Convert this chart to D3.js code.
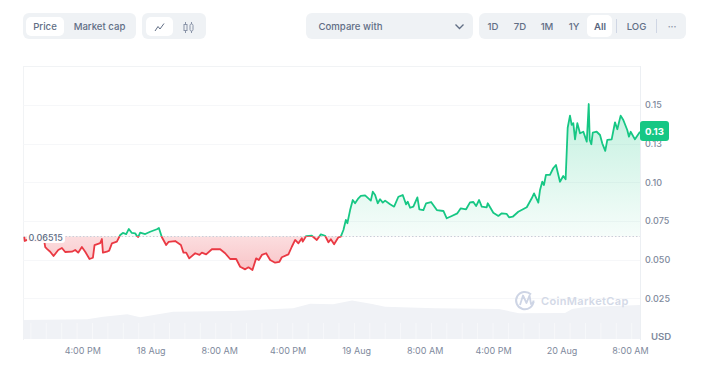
<!DOCTYPE html>
<html><head><meta charset="utf-8">
<script src="https://cdn.jsdelivr.net/npm/d3@7"></script>
<style>html,body{margin:0;padding:0;background:#fff;overflow:hidden}text{font-family:Inter,"Noto Sans",sans-serif}</style>
</head><body><svg id="c" width="704" height="379"></svg>
<script>
const baseValue = 0.06515;
const currentLabel = "0.13";
const hours = [-14.77,-14.72,-14.42,-13.49,-12.44,-12.32,-12.09,-11.74,-11.35,-10.80,-10.37,-9.99,-9.20,-8.82,-8.47,-8.04,-7.65,-7.15,-6.75,-6.56,-5.90,-5.70,-5.58,-5.12,-4.85,-4.53,-3.95,-3.56,-3.25,-2.86,-2.55,-2.20,-1.81,-1.61,-1.46,-1.23,-0.64,-0.06,0.72,0.96,1.31,1.81,2.08,2.86,3.53,3.83,4.15,4.50,5.20,5.70,5.98,6.48,7.15,8.12,8.70,9.28,9.99,10.45,11.04,11.42,11.89,12.32,12.64,12.99,13.49,13.96,14.54,15.04,15.32,16.09,16.49,16.88,17.26,17.66,17.77,18.16,18.83,19.41,19.88,20.38,20.77,21.05,21.43,21.93,22.21,22.52,22.80,22.98,23.30,23.61,23.88,24.27,24.55,25.05,25.72,25.95,26.22,26.53,26.80,27.12,27.39,27.97,28.44,28.94,29.45,29.84,30.03,30.31,30.69,31.16,31.39,31.86,32.18,32.76,33.43,34.20,34.59,35.18,35.83,36.23,36.85,37.31,37.70,38.02,38.37,38.68,39.26,39.38,40.03,40.62,41.02,41.60,41.87,42.30,42.95,43.94,44.52,44.79,45.29,45.49,45.75,45.95,46.18,46.65,47.03,47.35,47.82,48.20,48.48,48.72,48.99,49.19,49.38,49.58,49.85,50.16,50.55,50.95,51.18,51.30,51.48,51.65,52.11,52.50,52.76,53.11,53.35,53.86,54.25,54.52,54.91,55.22,55.68,55.88,56.08,56.58,57.17];
const prices = [.0646,.0620,.0627,.0620,.0620,.0581,.0568,.0551,.0523,.0562,.0575,.0549,.0551,.0562,.0545,.0581,.0551,.0504,.0512,.0594,.0607,.0633,.0545,.0551,.0558,.0605,.0616,.0659,.0672,.0665,.0698,.0672,.0670,.0652,.0646,.0674,.0665,.0680,.0696,.0704,.0644,.0594,.0614,.0620,.0594,.0545,.0545,.0508,.0541,.0530,.0545,.0534,.0567,.0567,.0541,.0504,.0504,.0454,.0437,.0450,.0433,.0508,.0497,.0530,.0541,.0497,.0480,.0486,.0515,.0534,.0583,.0627,.0605,.0638,.0616,.0652,.0654,.0627,.0663,.0654,.0612,.0631,.0599,.0644,.0648,.0691,.0756,.0735,.0820,.0885,.0864,.0896,.0911,.0915,.0881,.0939,.0917,.0864,.0890,.0868,.0881,.0857,.0842,.0906,.0917,.0857,.0874,.0835,.0842,.0902,.0825,.0820,.0864,.0872,.0820,.0814,.0767,.0782,.0799,.0831,.0825,.0870,.0872,.0846,.0885,.0842,.0838,.0864,.0803,.0782,.0799,.0795,.0773,.0777,.0809,.0838,.0896,.0928,.0868,.0950,.1003,.0982,.1047,.1047,.1090,.1111,.1003,.1040,.1019,.1352,.1430,.1370,.1381,.1277,.1381,.1316,.1326,.1262,.1505,.1273,.1245,.1320,.1326,.1305,.1251,.1202,.1273,.1277,.1387,.1342,.1430,.1402,.1337,.1294,.1326,.1277,.1326];
const volHours = [-14.86,-7.42,-5.55,-2.74,-1.23,2.63,9.64,16.64,18.63,21.31,23.53,25.87,27.39,33.23,40.70,43.04,48.41,49.23,50.75,57.17];
const volumes = [19,19.7,22.3,24.7,21.7,27.3,28,30.7,35.3,34.7,38.5,35,32.3,30.7,30,25.7,26,30,32,34];
const yTicks = [0.025,0.05,0.075,0.10,0.125,0.15];
const yLabels = ["0.025","0.050","0.075","0.10","0.13","0.15"];
const xTicks = [-8,0,8,16,24,32,40,48,56];
const xLabels = ["4:00 PM","18 Aug","8:00 AM","4:00 PM","19 Aug","8:00 AM","4:00 PM","20 Aug","8:00 AM"];
const seg1 = ["Price","Market cap"];
const seg3 = ["1D","7D","1M","1Y","All"];

const GREEN="#16c784", RED="#ea3943", GRID="#f6f7f9", TXT="#808a9d", BTN="#eff2f5", BTXT="#616e85";
const svg=d3.select("#c");
const L=23.5,R=640,T=66,B=339;
const t0=new Date(2023,7,18,0,0,0);
const toDate=h=>new Date(t0.getTime()+h*3600000);
const x=d3.scaleTime().domain([toDate(-14.86),toDate(57.17)]).range([L,R]);
const y=d3.scaleLinear().domain([0,0.15]).range([337,104.8]);
const v=d3.scaleLinear().domain([0,38.5]).range([B,B-38.5]);
const data=hours.map((h,i)=>({d:toDate(h),p:prices[i]}));
const vol=volHours.map((h,i)=>({d:toDate(h),p:volumes[i]}));
const defs=svg.append("defs");
const by=y(baseValue);
function grad(id,y1,y2,c,o1,o2){const g=defs.append("linearGradient").attr("id",id).attr("gradientUnits","userSpaceOnUse").attr("x1",0).attr("x2",0).attr("y1",y1).attr("y2",y2);
 g.append("stop").attr("offset",0).attr("stop-color",c).attr("stop-opacity",o1);
 g.append("stop").attr("offset",1).attr("stop-color",c).attr("stop-opacity",o2);}
grad("gg",y(0.15),by,GREEN,.26,.04);
grad("rg",by,y(0.043),RED,.17,.3);
defs.append("clipPath").attr("id","up").append("rect").attr("x",L).attr("y",0).attr("width",R-L+1).attr("height",by);
defs.append("clipPath").attr("id","dn").append("rect").attr("x",L-1).attr("y",by).attr("width",R-L+2).attr("height",379-by);

// controls
function box(xp,yp,w,h,f,r){svg.append("rect").attr("x",xp).attr("y",yp).attr("width",w).attr("height",h).attr("rx",r).attr("fill",f);}
function label(s,xp,anchor,col,wt,yp){svg.append("text").attr("x",xp).attr("y",yp||30).attr("text-anchor",anchor||"middle").attr("font-size",9.6).attr("font-weight",wt||500).attr("fill",col||BTXT).text(s);}
box(23,13,113,26,BTN,6); box(26,17,38,19,"#fff",5);
label(seg1[0],45); label(seg1[1],99.5);
box(142,13,64,26,BTN,6); box(146,17,27,19,"#fff",5);
svg.append("path").attr("d","M155 31 L158 26.5 L160 29 L164 23.5").attr("fill","none").attr("stroke",BTXT).attr("stroke-width",1);
svg.append("g").attr("fill","none").attr("stroke","#8a94a8").attr("stroke-width",1).call(g=>{
 g.append("rect").attr("x",184).attr("y",24.5).attr("width",3).attr("height",6);
 g.append("path").attr("d","M185.5 22V24.5M185.5 30.5V33M191.5 22V24M191.5 31V33");
 g.append("rect").attr("x",190).attr("y",24).attr("width",3).attr("height",7).attr("rx",1.4);
});
box(306,13,167,26,BTN,6); label("Compare with",318.5,"start");
svg.append("path").attr("d","M455.5 24.5 L459.5 28.5 L463.5 24.5").attr("fill","none").attr("stroke",BTXT).attr("stroke-width",1.3);
box(479,13,207,26,BTN,6); box(587,15,25,22,"#fff",5);
const seg3x=[493,520,547,574,600];
seg3.forEach((s,i)=>label(s,seg3x[i],"middle",i==4?"#58667e":BTXT,i==4?600:500,29.5));
label("LOG",636.5,"middle",BTXT,500,29.5);
[616.5,656.5].forEach(p=>svg.append("line").attr("x1",p).attr("x2",p).attr("y1",19).attr("y2",33).attr("stroke","#cfd6e4"));
label("···",672,"middle","#8a94a8",500,29.5);

// frame and grid
const frame=svg.append("g").attr("stroke","#f1f3f5").attr("fill","none");
frame.append("line").attr("x1",L).attr("x2",R).attr("y1",T+.5).attr("y2",T+.5);
frame.append("line").attr("x1",L).attr("x2",L).attr("y1",T).attr("y2",B+1);
frame.append("line").attr("x1",R+.5).attr("x2",R+.5).attr("y1",T).attr("y2",B+1).attr("stroke","#eceff3");
svg.append("g").selectAll("line").data(yTicks).join("line")
 .attr("x1",L).attr("x2",R).attr("y1",d=>Math.round(y(d))+.5).attr("y2",d=>Math.round(y(d))+.5).attr("stroke",GRID);

// volume
svg.append("path").datum(vol).attr("fill","#f0f2f6")
 .attr("d",d3.area().x(d=>x(d.d)).y0(B).y1(d=>v(d.p)));
svg.append("g").selectAll("line").data(d3.range(-14,57.1,1.8)).join("line")
 .attr("x1",d=>x(toDate(d))).attr("x2",d=>x(toDate(d))).attr("y1",B).attr("y2",B-16)
 .attr("stroke","#fff").attr("stroke-opacity",.45);

// watermark
const wm=svg.append("g").attr("fill","none").attr("stroke","#ced5e5").attr("stroke-width",2);
wm.append("path").attr("d","M533.5 300.5 a8.7 8.7 0 1 1 -2.5 -6");
wm.append("path").attr("d","M520 305 L523 295.5 L526.5 303 L529.5 295.5 L531 304 L534 302").attr("stroke-width",1.8).attr("stroke-linejoin","round");
svg.append("text").attr("x",541).attr("y",304.5).attr("font-size",11).attr("font-weight",600).attr("letter-spacing",.35).attr("fill","#d3d9e7").text("CoinMarketCap");

// price areas + lines
const area=d3.area().x(d=>x(d.d)).y0(by).y1(d=>y(d.p));
const line=d3.line().x(d=>x(d.d)).y(d=>y(d.p));
svg.append("path").datum(data).attr("d",area).attr("fill","url(#gg)").attr("clip-path","url(#up)");
svg.append("path").datum(data).attr("d",area).attr("fill","url(#rg)").attr("clip-path","url(#dn)");
svg.append("line").attr("x1",L).attr("x2",R).attr("y1",Math.round(by)+.5).attr("y2",Math.round(by)+.5)
 .attr("stroke","#c9ced8").attr("stroke-dasharray","1.5 2");
svg.append("path").datum(data).attr("d",line).attr("fill","none").attr("stroke",GREEN).attr("stroke-width",1.8).attr("stroke-linejoin","round").attr("clip-path","url(#up)");
svg.append("path").datum(data).attr("d",line).attr("fill","none").attr("stroke",RED).attr("stroke-width",1.8).attr("stroke-linejoin","round").attr("clip-path","url(#dn)");

// base label
svg.append("rect").attr("x",27).attr("y",230).attr("width",38).attr("height",13).attr("rx",3).attr("fill","#fff").attr("fill-opacity",.96);
svg.append("text").attr("x",28.5).attr("y",240.5).attr("font-size",9).attr("font-weight",500).attr("fill","#616e85").text(baseValue.toFixed(5));

// axes
const yAxis=d3.axisRight(y).tickValues(yTicks).tickSize(0).tickPadding(0).tickFormat((d,i)=>yLabels[i]);
const gy=svg.append("g").attr("transform",`translate(645,0)`).call(yAxis);
gy.select(".domain").remove();
gy.selectAll("text").attr("font-size",9).attr("font-weight",500).attr("fill",TXT).style("font-family","Inter");
svg.append("text").attr("x",651).attr("y",340).attr("font-size",9.6).attr("font-weight",600).attr("fill","#808a9d").text("USD");
const xAxis=d3.axisBottom(x).tickValues(xTicks.map(toDate)).tickSize(0).tickPadding(0).tickFormat((d,i)=>xLabels[i]);
const gx=svg.append("g").attr("transform",`translate(0,347.5)`).call(xAxis);
gx.select(".domain").remove();
gx.selectAll("text").attr("font-size",9).attr("fill",TXT).style("font-family","Inter");

// current badge
box(640,121,29,20,GREEN,3);
svg.append("text").attr("x",654.5).attr("y",134.5).attr("text-anchor","middle").attr("font-size",9.6).attr("font-weight",700).attr("fill","#fff").text(currentLabel);
</script></body></html>
